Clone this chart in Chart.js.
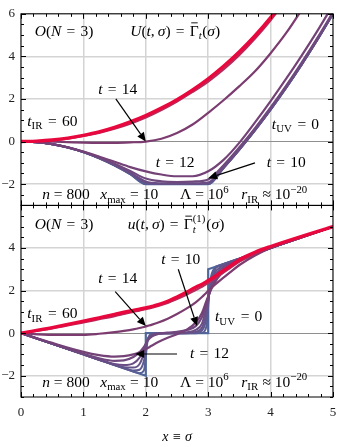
<!DOCTYPE html>
<html>
<head>
<meta charset="utf-8">
<script src="https://cdn.jsdelivr.net/npm/chart.js@4.4.1/dist/chart.umd.min.js"></script>
<style>
  body { margin: 0; background: #fff; }
  #wrap { width: 338px; height: 447px; }
</style>
</head>
<body>
<div id="wrap"><canvas id="chart" width="338" height="447"></canvas></div>
<script>
// ---- values ----
const tValues = [0, 2, 4, 6, 8, 10, 12, 14, 20, 60];

const xTicks = [0, 1, 2, 3, 4, 5];
const yTopTicks = [-2, 0, 2, 4, 6];
const yBotTicks = [-2, 0, 2, 4];

// top panel: U(t, sigma)
const sigmaTop = [0, 0.25, 0.5, 0.75, 1, 1.25, 1.5, 1.75, 2, 2.25, 2.5, 2.75, 3, 3.25, 3.5, 3.75, 4, 4.25, 4.5, 4.75, 5];
const U_t0  = [0, -0.03, -0.125, -0.28, -0.5, -0.78, -1.125, -1.53, -2, -2, -2, -2, -2, -1.22, -0.375, 0.53, 1.5, 2.53, 3.625, 4.78, 6];
const U_t2  = [0, -0.03, -0.125, -0.28, -0.5, -0.78, -1.125, -1.53, -1.99, -2, -2, -2, -2, -1.22, -0.375, 0.53, 1.5, 2.53, 3.625, 4.78, 6];
const U_t4  = [0, -0.03, -0.125, -0.28, -0.5, -0.78, -1.12, -1.52, -1.96, -2, -2, -2, -1.99, -1.23, -0.38, 0.53, 1.5, 2.53, 3.62, 4.78, 6];
const U_t6  = [0, -0.03, -0.125, -0.28, -0.5, -0.78, -1.11, -1.5, -1.93, -1.99, -1.99, -1.99, -1.96, -1.22, -0.37, 0.54, 1.51, 2.54, 3.63, 4.79, 6.01];
const U_t8  = [0, -0.03, -0.12, -0.28, -0.49, -0.77, -1.09, -1.46, -1.87, -1.96, -1.97, -1.96, -1.92, -1.19, -0.34, 0.56, 1.53, 2.56, 3.65, 4.81, 6.02];
const U_t10 = [0, -0.03, -0.12, -0.27, -0.48, -0.74, -1.04, -1.38, -1.74, -1.87, -1.9, -1.88, -1.78, -1.1, -0.27, 0.63, 1.6, 2.63, 3.72, 4.87, 6.08];
const U_t12 = [0, -0.03, -0.12, -0.27, -0.47, -0.7, -0.95, -1.2, -1.4, -1.55, -1.63, -1.63, -1.4, -0.85, -0.05, 0.9, 1.9, 2.95, 4.05, 5.2, 6.42];
const U_t14 = [0, 0, -0.01, -0.03, -0.05, -0.06, -0.06, -0.04, 0, 0.13, 0.4, 0.8, 1.35, 1.95, 2.6, 3.3, 4.15, 5.1, 6.2, 7.35, 8.55];
const U_t20 = [0, 0.01, 0.06, 0.14, 0.26, 0.41, 0.6, 0.84, 1.13, 1.48, 1.88, 2.33, 2.82, 3.4, 4.07, 4.84, 5.7, 6.66, 7.7, 8.8, 9.95];
const U_t60 = [0, 0.02, 0.07, 0.16, 0.29, 0.45, 0.66, 0.92, 1.22, 1.57, 1.97, 2.43, 2.95, 3.55, 4.22, 4.97, 5.82, 6.8, 7.85, 8.95, 10.1];

// bottom panel: u(t, sigma) = U'
const sigmaUV = [0, 2, 2, 3, 3, 5];
const u_t0 = [0, -2, 0, 0, 3, 5];
const sigmaBot = [0, 0.5, 1, 1.25, 1.5, 1.65, 1.8, 1.9, 1.97, 2.03, 2.1, 2.2, 2.35, 2.5, 2.65, 2.8, 2.9, 2.97, 3.03, 3.1, 3.2, 3.35, 3.5, 3.75, 4, 4.5, 5];
const u_t2  = [0, -0.5, -1, -1.25, -1.5, -1.65, -1.8, -1.88, -1.75, -0.35, -0.03, 0, 0, 0, 0, 0, 0.02, 0.3, 2.4, 3.05, 3.2, 3.35, 3.5, 3.75, 4, 4.5, 5];
const u_t4  = [0, -0.5, -1, -1.25, -1.5, -1.64, -1.76, -1.72, -1.3, -0.3, -0.05, 0, 0, 0, 0, 0.02, 0.12, 0.7, 2.2, 2.95, 3.18, 3.35, 3.5, 3.75, 4, 4.5, 5];
const u_t6  = [0, -0.5, -1, -1.25, -1.49, -1.6, -1.62, -1.45, -0.95, -0.3, -0.07, 0, 0, 0, 0.01, 0.06, 0.25, 0.95, 2.1, 2.8, 3.1, 3.32, 3.5, 3.75, 4, 4.5, 5];
const u_t8  = [0, -0.5, -1, -1.24, -1.45, -1.5, -1.42, -1.15, -0.75, -0.3, -0.1, -0.02, 0, 0.01, 0.04, 0.15, 0.45, 1.2, 2.0, 2.65, 3.0, 3.28, 3.48, 3.75, 4, 4.5, 5];
const u_t10 = [0, -0.49, -0.97, -1.18, -1.3, -1.28, -1.12, -0.9, -0.65, -0.35, -0.15, -0.04, 0.02, 0.06, 0.14, 0.33, 0.75, 1.4, 1.95, 2.5, 2.9, 3.2, 3.43, 3.72, 4, 4.5, 5];
const u_t12 = [0, -0.46, -0.88, -1.03, -1.1, -1.08, -1.0, -0.9, -0.8, -0.7, -0.58, -0.42, -0.22, -0.05, 0.15, 0.5, 0.95, 1.5, 1.95, 2.35, 2.75, 3.1, 3.38, 3.7, 4, 4.5, 5];
const u_t14 = [0, -0.08, -0.08, -0.03, 0.05, 0.11, 0.18, 0.24, 0.29, 0.34, 0.4, 0.5, 0.68, 0.9, 1.15, 1.45, 1.7, 1.9, 2.07, 2.25, 2.5, 2.85, 3.2, 3.65, 4, 4.5, 5];
const u_t20 = [0, 0.22, 0.5, 0.65, 0.8, 0.9, 1.0, 1.06, 1.11, 1.15, 1.2, 1.28, 1.42, 1.6, 1.8, 2.03, 2.18, 2.3, 2.42, 2.56, 2.76, 3.06, 3.36, 3.74, 4.04, 4.52, 5];
const u_t60 = [0, 0.26, 0.56, 0.72, 0.88, 0.98, 1.07, 1.13, 1.17, 1.21, 1.26, 1.34, 1.5, 1.7, 1.92, 2.16, 2.3, 2.42, 2.52, 2.65, 2.85, 3.15, 3.45, 3.8, 4.07, 4.55, 5];

const topCurves = [U_t0, U_t2, U_t4, U_t6, U_t8, U_t10, U_t12, U_t14, U_t20, U_t60];
const botCurves = [u_t0, u_t2, u_t4, u_t6, u_t8, u_t10, u_t12, u_t14, u_t20, u_t60];

// styles, one per t
const lineColors = ['#4f679b', '#566096', '#5d5a90', '#64538a', '#6a4d84', '#6f487e', '#744277', '#7c3c70', '#b62a5c', '#e8083e'];
const lineWidths = [2.2, 2, 2, 2, 2, 2.2, 2.2, 2.2, 2.2, 3.4];

const toPts = (xs, ys) => xs.map((s, i) => ({x: s, y: ys[i]}));

const datasets = [];
// reverse so that the IR (red) curve is drawn on top
for (let k = tValues.length - 1; k >= 0; k--) {
    datasets.push({
        label: 'U t=' + tValues[k],
        data: toPts(sigmaTop, topCurves[k]),
        yAxisID: 'yTop',
        borderColor: lineColors[k],
        borderWidth: lineWidths[k],
        pointRadius: 0,
        cubicInterpolationMode: 'monotone'
    });
}
for (let k = tValues.length - 1; k >= 0; k--) {
    const xs = k === 0 ? sigmaUV : sigmaBot;
    datasets.push({
        label: 'u t=' + tValues[k],
        data: toPts(xs, botCurves[k]),
        yAxisID: 'yBot',
        borderColor: lineColors[k],
        borderWidth: lineWidths[k],
        pointRadius: 0,
        cubicInterpolationMode: k === 0 ? 'default' : 'monotone',
        tension: 0
    });
}

// ---- text decoration ----
const SERIF = '"Liberation Serif", "DejaVu Serif", serif';
const BIG = 15.5, SMALL = 10.8;
const EQ = '\u2004=\u2004';
function setFont(ctx, italic, size) {
    ctx.font = (italic ? 'italic ' : '') + size + 'px ' + SERIF;
}
// styles: r roman, i italic, sb roman sub, si italic sub, sp sup, g overbar, ss italic sub + roman sup ("a|b")
function pieceWidth(ctx, txt, st) {
    if (st === 'ss') {
        const [a, b] = txt.split('|');
        setFont(ctx, true, SMALL); const wa = ctx.measureText(a).width;
        setFont(ctx, false, SMALL); const wb = ctx.measureText(b).width;
        return Math.max(wa, wb) + 1;
    }
    const small = st === 'sb' || st === 'si' || st === 'sp';
    setFont(ctx, st === 'i' || st === 'si', small ? SMALL : BIG);
    return ctx.measureText(txt).width + (small ? 0.5 : 0);
}
function drawRich(ctx, parts, x, y, align) {
    const ws = parts.map(p => pieceWidth(ctx, p[0], p[1]));
    const total = ws.reduce((a, b) => a + b, 0);
    let cx = align === 'center' ? x - total / 2 : x;
    ctx.textAlign = 'left';
    ctx.textBaseline = 'alphabetic';
    parts.forEach(([txt, st], k) => {
        if (st === 'ss') {
            const [a, b] = txt.split('|');
            setFont(ctx, true, SMALL); ctx.fillText(a, cx, y + 4);
            setFont(ctx, false, SMALL); ctx.fillText(b, cx, y - 7.5);
        } else {
            const small = st === 'sb' || st === 'si' || st === 'sp';
            const dy = (st === 'sb' || st === 'si') ? 3.5 : st === 'sp' ? -6.5 : 0;
            setFont(ctx, st === 'i' || st === 'si', small ? SMALL : BIG);
            ctx.fillText(txt, cx, y + dy);
            if (st === 'g') {
                ctx.beginPath();
                ctx.lineWidth = 0.9;
                ctx.moveTo(cx + 1.5, y - 13);
                ctx.lineTo(cx + ws[k] - 1, y - 13);
                ctx.stroke();
            }
        }
        cx += ws[k];
    });
}

const bottomRow = [
    {s: 0.34, parts: [['n', 'i'], [' = 800', 'r']]},
    {s: 1.27, parts: [['x', 'i'], ['max', 'sb'], [' = 10', 'r']]},
    {s: 2.55, parts: [['Λ = 10', 'r'], ['6', 'sp']]},
    {s: 3.53, parts: [['r', 'i'], ['IR', 'sb'], [' ≈ 10', 'r'], ['−20', 'sp']]}
];

const notes = [
    // top panel
    {ax: 'yTop', s: 0.22, v: 5.2, parts: [['O', 'i'], ['(', 'r'], ['N', 'i'], [EQ + '3)', 'r']]},
    {ax: 'yTop', s: 1.75, v: 5.2, parts: [['U', 'i'], ['(', 'r'], ['t', 'i'], [',\u2009', 'r'], ['σ', 'i'], [')' + EQ, 'r'], ['Γ', 'g'], ['t', 'si'], ['(', 'r'], ['σ', 'i'], [')', 'r']]},
    {ax: 'yTop', s: 1.55, v: 2.47, align: 'center', parts: [['t', 'i'], [EQ + '14', 'r']]},
    {ax: 'yTop', s: 0.1, v: 0.98, parts: [['t', 'i'], ['IR', 'sb'], [EQ + '60', 'r']]},
    {ax: 'yTop', s: 4.02, v: 0.84, parts: [['t', 'i'], ['UV', 'sb'], [EQ + '0', 'r']]},
    {ax: 'yTop', s: 2.47, v: -0.98, align: 'center', parts: [['t', 'i'], [EQ + '12', 'r']]},
    {ax: 'yTop', s: 4.25, v: -0.98, align: 'center', parts: [['t', 'i'], [EQ + '10', 'r']]},
    // bottom panel
    {ax: 'yBot', s: 0.22, v: 5.12, parts: [['O', 'i'], ['(', 'r'], ['N', 'i'], [EQ + '3)', 'r']]},
    {ax: 'yBot', s: 1.71, v: 5.12, parts: [['u', 'i'], ['(', 'r'], ['t', 'i'], [',\u2009', 'r'], ['σ', 'i'], [')' + EQ, 'r'], ['Γ', 'g'], ['t|(1)', 'ss'], ['(', 'r'], ['σ', 'i'], [')', 'r']]},
    {ax: 'yBot', s: 2.56, v: 3.49, align: 'center', parts: [['t', 'i'], [EQ + '10', 'r']]},
    {ax: 'yBot', s: 1.55, v: 2.6, align: 'center', parts: [['t', 'i'], [EQ + '14', 'r']]},
    {ax: 'yBot', s: 0.1, v: 0.93, parts: [['t', 'i'], ['IR', 'sb'], [EQ + '60', 'r']]},
    {ax: 'yBot', s: 3.11, v: 0.79, parts: [['t', 'i'], ['UV', 'sb'], [EQ + '0', 'r']]},
    {ax: 'yBot', s: 2.71, v: -0.93, parts: [['t', 'i'], [EQ + '12', 'r']]}
];
bottomRow.forEach(b => {
    notes.push({ax: 'yTop', s: b.s, v: -2.47, parts: b.parts});
    notes.push({ax: 'yBot', s: b.s, v: -2.28, parts: b.parts});
});

const arrows = [
    {ax: 'yTop', from: [1.52, 2.0], to: [2.0, 0.0]},
    {ax: 'yTop', from: [3.75, -1.0], to: [3.0, -1.72]},
    {ax: 'yBot', from: [1.51, 1.95], to: [2.0, 0.33]},
    {ax: 'yBot', from: [2.52, 3.0], to: [2.82, 0.33]},
    {ax: 'yBot', from: [2.5, -0.98], to: [1.83, -0.98]}
];

const decor = {
    id: 'decor',
    afterDraw(chart) {
        const {ctx, scales} = chart;
        const xs = scales.x;
        ctx.save();
        ctx.strokeStyle = '#000';
        ctx.fillStyle = '#000';
        [scales.yTop, scales.yBot].forEach(ys => {
            const L = xs.left, R = xs.right, T = ys.top, B = ys.bottom;
            ctx.lineWidth = 1;
            ctx.strokeRect(L, T, R - L, B - T);
            ctx.beginPath();
            for (let k = 0; k <= 25; k++) {
                const px = Math.round(xs.getPixelForValue(k * 0.2)) + 0.5;
                const len = k % 5 === 0 ? 5 : 3;
                ctx.moveTo(px, T); ctx.lineTo(px, T + len);
                ctx.moveTo(px, B); ctx.lineTo(px, B - len);
            }
            for (let v = ys.min; v <= ys.max + 1e-9; v += 0.5) {
                const py = Math.round(ys.getPixelForValue(v)) + 0.5;
                const len = v % 2 === 0 ? 5 : 3;
                ctx.moveTo(L, py); ctx.lineTo(L + len, py);
                ctx.moveTo(R, py); ctx.lineTo(R - len, py);
            }
            ctx.stroke();
        });

        notes.forEach(n => {
            const px = xs.getPixelForValue(n.s);
            const py = scales[n.ax].getPixelForValue(n.v) + 5;
            drawRich(ctx, n.parts, px, py, n.align || 'left');
        });

        arrows.forEach(a => {
            const ys = scales[a.ax];
            const x1 = xs.getPixelForValue(a.from[0]), y1 = ys.getPixelForValue(a.from[1]);
            const x2 = xs.getPixelForValue(a.to[0]), y2 = ys.getPixelForValue(a.to[1]);
            const ang = Math.atan2(y2 - y1, x2 - x1);
            const hl = 9, hw = 4;
            const bx = x2 - hl * Math.cos(ang), by = y2 - hl * Math.sin(ang);
            ctx.lineWidth = 1.2;
            ctx.beginPath();
            ctx.moveTo(x1, y1); ctx.lineTo(bx, by);
            ctx.stroke();
            ctx.beginPath();
            ctx.moveTo(x2, y2);
            ctx.lineTo(bx + hw * Math.sin(ang), by - hw * Math.cos(ang));
            ctx.lineTo(bx - hw * Math.sin(ang), by + hw * Math.cos(ang));
            ctx.closePath();
            ctx.fill();
        });
        ctx.restore();
    }
};

const gridColor = c => (c.tick && c.tick.value === 0) ? '#8f8f8f' : '#d4d4d4';
const minusFmt = v => v < 0 ? '\u2212' + Math.abs(v) : String(v);
const tickFont = {family: SERIF, size: 13};

new Chart(document.getElementById('chart'), {
    type: 'line',
    data: {datasets: datasets},
    options: {
        responsive: false,
        devicePixelRatio: 1,
        animation: false,
        layout: {padding: {top: 10, right: 5, left: 0, bottom: 0}},
        plugins: {legend: {display: false}, tooltip: {enabled: false}},
        scales: {
            x: {
                type: 'linear',
                min: 0, max: 5,
                afterBuildTicks: s => { s.ticks = xTicks.map(v => ({value: v})); },
                afterFit: s => { s.height = 50; s.paddingLeft = 0; s.paddingRight = 0; },
                grid: {color: '#d4d4d4', lineWidth: 1.5, drawTicks: false},
                border: {display: false},
                ticks: {color: '#222', font: tickFont, padding: 8, maxRotation: 0, callback: v => String(v)},
                title: {display: true, text: 'x ≡ σ', color: '#000', font: {family: SERIF, size: 14, style: 'italic'}, padding: {top: 0, bottom: 1}}
            },
            yBot: {
                type: 'linear',
                position: 'left',
                stack: 'panels',
                stackWeight: 1,
                min: -3, max: 6,
                afterBuildTicks: s => { s.ticks = yBotTicks.map(v => ({value: v})); },
                afterFit: s => { s.width = 21; },
                grid: {color: gridColor, lineWidth: c => (c.tick && c.tick.value === 0) ? 1 : 1.5, drawTicks: false},
                border: {display: false},
                ticks: {color: '#222', font: tickFont, padding: 6, callback: minusFmt}
            },
            yTop: {
                type: 'linear',
                position: 'left',
                stack: 'panels',
                stackWeight: 1,
                min: -3, max: 6,
                afterBuildTicks: s => { s.ticks = yTopTicks.map(v => ({value: v})); },
                afterFit: s => { s.width = 21; },
                grid: {color: gridColor, lineWidth: c => (c.tick && c.tick.value === 0) ? 1 : 1.5, drawTicks: false},
                border: {display: false},
                ticks: {color: '#222', font: tickFont, padding: 6, callback: minusFmt}
            }
        }
    },
    plugins: [decor]
});
</script>
</body>
</html>
